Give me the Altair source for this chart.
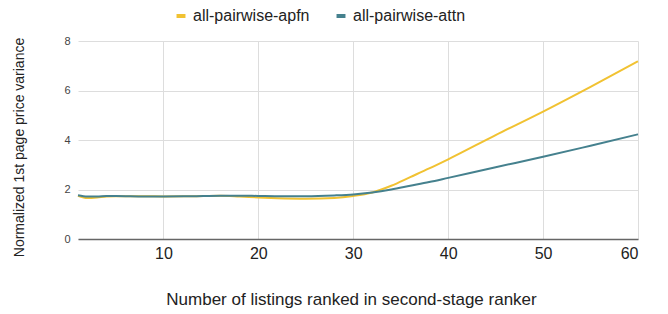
import altair as alt
import pandas as pd

x_vals = [1, 2, 3, 4, 5, 8, 10, 13, 16, 18, 20, 22, 25, 28, 30, 32, 34, 36, 38, 40, 45, 50, 55, 60]
apfn = [1.75, 1.66, 1.68, 1.72, 1.73, 1.73, 1.72, 1.73, 1.75, 1.72, 1.68, 1.65, 1.63, 1.66, 1.74, 1.88, 2.15, 2.5, 2.85, 3.22, 4.2, 5.15, 6.15, 7.18]
attn = [1.77, 1.72, 1.72, 1.74, 1.74, 1.72, 1.72, 1.73, 1.75, 1.75, 1.74, 1.73, 1.73, 1.76, 1.80, 1.88, 2.0, 2.15, 2.3, 2.47, 2.9, 3.32, 3.77, 4.23]
series = ["all-pairwise-apfn", "all-pairwise-attn"]
colors = ["#f1c232", "#45818e"]

rows = []
for name, vals in zip(series, [apfn, attn]):
    for x, v in zip(x_vals, vals):
        rows.append({"x": x, "value": v, "series": name, "order": series.index(name)})
df = pd.DataFrame(rows)

FONT = "Liberation Sans"

chart = alt.Chart(df).mark_line(strokeWidth=2, interpolate="monotone").encode(
    x=alt.X("x:Q", scale=alt.Scale(domain=[1, 60], nice=False, zero=False),
            axis=alt.Axis(values=[10, 20, 30, 40, 50, 60], title="Number of listings ranked in second-stage ranker",
                          labelFontSize=16, labelColor="#222", labelPadding=6, ticks=False,
                          domainColor="#666", domainWidth=1.5,
                          gridColor="#ddd", titleFontSize=17, titleFontWeight="normal", titleColor="#222",
                          titleX=273, titleY=52, titleAnchor="middle", labelFont=FONT, titleFont=FONT)),
    y=alt.Y("value:Q", scale=alt.Scale(domain=[0, 8], nice=False),
            axis=alt.Axis(values=[0, 2, 4, 6, 8], title="Normalized 1st page price variance",
                          labelFontSize=11, labelColor="#444", labelPadding=8, ticks=False, domain=False,
                          gridColor="#ddd", titleFontSize=14, titleFontWeight="normal", titleColor="#222",
                          titleX=-52, titleY=106, titleAnchor="middle", labelFont=FONT, titleFont=FONT)),
    color=alt.Color("series:N", scale=alt.Scale(domain=series, range=colors),
                    legend=alt.Legend(title=None, orient="none", legendX=95, legendY=-33, direction="horizontal",
                                      labelFontSize=16, labelFont=FONT, labelColor="#222",
                                      symbolType="stroke", symbolStrokeWidth=4, symbolSize=80, columnPadding=18)),
    order="order:Q",
    detail="series:N",
).properties(
    width=560, height=198,
    autosize=alt.AutoSizeParams(type="none"),
    padding={"left": 70, "top": 33, "right": 20, "bottom": 70},
).configure_view(stroke=None)

chart.save("out.html", embed_options={"renderer": "svg", "actions": False})
